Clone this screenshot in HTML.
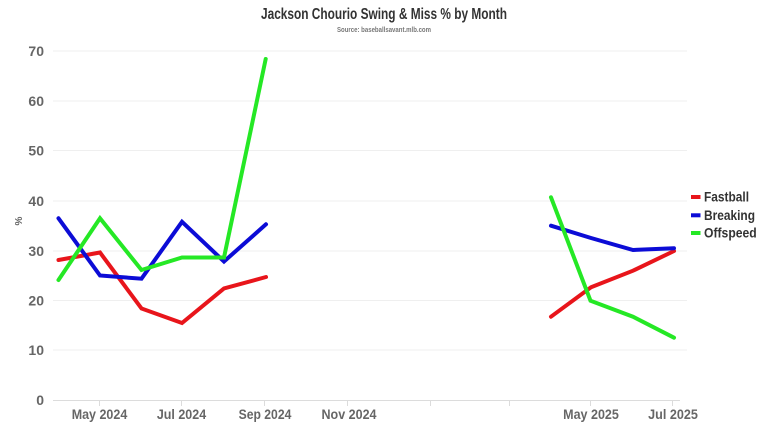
<!DOCTYPE html>
<html><head><meta charset="utf-8"><style>
html,body{margin:0;padding:0;background:#fff;}
svg{display:block;font-family:"Liberation Sans Narrow","Liberation Sans",sans-serif;font-weight:bold;}
</style></head><body>
<svg width="768" height="432" viewBox="0 0 768 432" xmlns="http://www.w3.org/2000/svg">
<rect width="768" height="432" fill="#fff"/>
<text x="384" y="19" text-anchor="middle" font-size="16" fill="#333" textLength="246" lengthAdjust="spacingAndGlyphs">Jackson Chourio Swing &amp; Miss % by Month</text>
<text x="384" y="32" text-anchor="middle" font-size="7" fill="#777" textLength="94" lengthAdjust="spacingAndGlyphs">Source: baseballsavant.mlb.com</text>
<g stroke="#efefef" stroke-width="1">
<line x1="53" y1="51" x2="687" y2="51"/>
<line x1="53" y1="101" x2="687" y2="101"/>
<line x1="53" y1="150.5" x2="687" y2="150.5"/>
<line x1="53" y1="201" x2="687" y2="201"/>
<line x1="53" y1="251" x2="687" y2="251"/>
<line x1="53" y1="300.5" x2="687" y2="300.5"/>
<line x1="53" y1="350" x2="687" y2="350"/>
</g>
<line x1="53" y1="400.5" x2="680" y2="400.5" stroke="#dcdcdc" stroke-width="1"/>
<g stroke="#dcdcdc" stroke-width="1">
<line x1="99.5" y1="400" x2="99.5" y2="406"/>
<line x1="181.5" y1="400" x2="181.5" y2="406"/>
<line x1="264.5" y1="400" x2="264.5" y2="406"/>
<line x1="347.5" y1="400" x2="347.5" y2="406"/>
<line x1="430.5" y1="400" x2="430.5" y2="406"/>
<line x1="509.5" y1="400" x2="509.5" y2="406"/>
<line x1="590.5" y1="400" x2="590.5" y2="406"/>
<line x1="672.5" y1="400" x2="672.5" y2="406"/>
</g>
<g font-size="14" fill="#666" text-anchor="end">
<text x="44" y="56">70</text>
<text x="44" y="106">60</text>
<text x="44" y="155.5">50</text>
<text x="44" y="206">40</text>
<text x="44" y="256">30</text>
<text x="44" y="305.5">20</text>
<text x="44" y="355">10</text>
<text x="44" y="405">0</text>
</g>
<text x="0" y="0" font-size="10" fill="#666" text-anchor="middle" transform="translate(22,221) rotate(-90)">%</text>
<g font-size="14" fill="#666" text-anchor="middle">
<text x="99.5" y="419" textLength="55.6" lengthAdjust="spacingAndGlyphs">May 2024</text>
<text x="181.5" y="419" textLength="49.3" lengthAdjust="spacingAndGlyphs">Jul 2024</text>
<text x="265" y="419" textLength="52.7" lengthAdjust="spacingAndGlyphs">Sep 2024</text>
<text x="349" y="419" textLength="55" lengthAdjust="spacingAndGlyphs">Nov 2024</text>
<text x="591" y="419" textLength="55.7" lengthAdjust="spacingAndGlyphs">May 2025</text>
<text x="673" y="419" textLength="49.7" lengthAdjust="spacingAndGlyphs">Jul 2025</text>
</g>
<g fill="none" stroke-width="4" stroke-linejoin="miter" stroke-linecap="round">
<polyline stroke="#e8151b" points="58.5,260 100,252.5 141.5,308.5 182,323 224,288.5 266,277"/>
<polyline stroke="#0c0cd6" points="58.5,218.3 100,275.5 141.5,278.7 182,221.8 224,261.5 266,224.3"/>
<polyline stroke="#25e825" points="58.5,280 100,218.3 141.5,270 182,257.5 224,257.5 265.7,59"/>
<polyline stroke="#e8151b" points="551,316.7 591,287.3 633,270.7 674,251"/>
<polyline stroke="#0c0cd6" points="551,225.7 591,238 633,250 674,248.3"/>
<polyline stroke="#25e825" points="551,197.3 590.5,300.7 633,316.7 674,337.7"/>
</g>
<rect x="691" y="195" width="9.5" height="4" fill="#e8151b"/>
<rect x="691" y="213.3" width="9.5" height="4" fill="#0c0cd6"/>
<rect x="691" y="231" width="9.5" height="4" fill="#25e825"/>
<g font-size="14" fill="#333">
<text x="704" y="201.7" textLength="45" lengthAdjust="spacingAndGlyphs">Fastball</text>
<text x="704" y="220" textLength="51" lengthAdjust="spacingAndGlyphs">Breaking</text>
<text x="704" y="237.5" textLength="52.7" lengthAdjust="spacingAndGlyphs">Offspeed</text>
</g>
</svg>
</body></html>
